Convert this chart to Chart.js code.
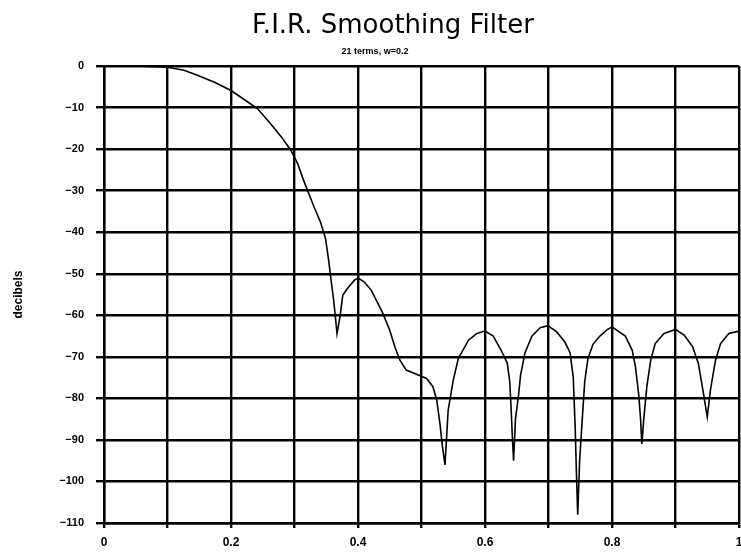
<!DOCTYPE html>
<html>
<head>
<meta charset="utf-8">
<title>F.I.R. Smoothing Filter</title>
<script src="https://cdn.jsdelivr.net/npm/chart.js@4/dist/chart.umd.min.js"></script>
<style>
  body { margin: 0; background: #fff; overflow: hidden; }
  canvas { display: block; }
</style>
</head>
<body>
<canvas id="chart1" width="741" height="560"></canvas>
<script>
// DATA
const chartTitle = "F.I.R. Smoothing Filter";
const chartSubtitle = "21 terms, w=0.2";
const yAxisTitle = "decibels";

const freq = [0, 0.05, 0.1, 0.126, 0.147, 0.174, 0.2, 0.226, 0.242, 0.263, 0.279, 0.294, 0.305, 0.316,
  0.331, 0.341, 0.349, 0.354, 0.358, 0.362, 0.367, 0.372, 0.376, 0.383, 0.394, 0.4, 0.41, 0.421,
  0.439, 0.45, 0.458, 0.466, 0.476, 0.492, 0.508, 0.518, 0.524, 0.529, 0.533, 0.537, 0.542, 0.55,
  0.558, 0.574, 0.587, 0.6, 0.613, 0.626, 0.635, 0.639, 0.641, 0.643, 0.645, 0.648, 0.653, 0.656,
  0.663, 0.674, 0.687, 0.699, 0.713, 0.726, 0.734, 0.739, 0.742, 0.744, 0.746, 0.749, 0.754, 0.757,
  0.762, 0.77, 0.781, 0.792, 0.8, 0.821, 0.832, 0.837, 0.842, 0.845, 0.847, 0.85, 0.855, 0.861,
  0.868, 0.882, 0.9, 0.914, 0.927, 0.936, 0.944, 0.95, 0.955, 0.963, 0.971, 0.984, 1.0];

const decibels = [0, 0, -0.3, -1, -2.2, -3.9, -5.9, -8.6, -10.3, -14, -17, -20.2, -23.5, -28.2,
  -34, -37.6, -41.6, -47, -52, -56.8, -64.4, -60, -55.2, -53.6, -51.6, -51, -52, -54,
  -59.5, -63.6, -67.6, -70.8, -73.2, -74.2, -75.2, -77.2, -80.4, -86, -91.6, -96, -82.8, -75.6,
  -70.4, -66, -64.4, -63.8, -65, -68.6, -71.5, -76, -82, -89, -95, -85, -79, -74.4,
  -69, -65, -63, -62.5, -64, -66.5, -69, -75, -87, -98, -108, -95, -83, -76,
  -70.5, -67, -65, -63.5, -62.8, -65, -68.5, -72.5, -79, -85, -91, -85, -77, -70.8,
  -66.8, -64.4, -63.4, -64.8, -67.6, -71.6, -78.8, -84.5, -78, -70.8, -66.8, -64.4, -63.8];

const xTickValues = [0, 0.2, 0.4, 0.6, 0.8, 1];
const xTickLabels = ["0", "0.2", "0.4", "0.6", "0.8", "1"];
const yTickValues = [0, -10, -20, -30, -40, -50, -60, -70, -80, -90, -100, -110];
const yTickLabels = ["0", "\u221210", "\u221220", "\u221230", "\u221240", "\u221250", "\u221260",
  "\u221270", "\u221280", "\u221290", "\u2212100", "\u2212110"];

// titles are drawn by hand so they can sit off-centre like the original
const headings = {
  id: 'headings',
  afterDraw(chart) {
    const ctx = chart.ctx;
    ctx.save();
    ctx.fillStyle = '#000';
    ctx.textAlign = 'center';
    ctx.textBaseline = 'alphabetic';
    ctx.font = '26px "DejaVu Sans"';
    ctx.fillText(chartTitle, 393, 33);
    ctx.font = 'bold 9px "Liberation Sans"';
    ctx.fillText(chartSubtitle, 375, 54);
    ctx.restore();
  }
};

const pts = freq.map((f, i) => ({ x: f, y: decibels[i] }));

new Chart(document.getElementById("chart1"), {
  type: 'line',
  data: {
    datasets: [{
      data: pts,
      borderColor: '#000',
      borderWidth: 1.6,
      pointRadius: 0,
      tension: 0
    }]
  },
  plugins: [headings],
  options: {
    responsive: false,
    animation: false,
    layout: { padding: { top: 66, right: 2, bottom: 0, left: 0 } },
    plugins: {
      legend: { display: false },
      title: { display: false },
      tooltip: { enabled: false }
    },
    scales: {
      x: {
        type: 'linear',
        min: 0,
        max: 1,
        afterFit(scale) {
          scale.paddingLeft = 0;
          scale.paddingRight = 0;
          scale.height = 37;
        },
        ticks: {
          stepSize: 0.1,
          autoSkip: false,
          maxRotation: 0,
          padding: 7,
          color: '#000',
          font: { family: 'Liberation Sans', size: 12, weight: 'bold' },
          callback: (v) => {
            const i = xTickValues.findIndex(t => Math.abs(t - v) < 1e-6);
            return i >= 0 ? xTickLabels[i] : '';
          }
        },
        grid: { color: '#000', lineWidth: 2.4, tickLength: 5 },
        border: { color: '#000', width: 2.4 }
      },
      y: {
        min: -110,
        max: 0,
        afterFit(scale) {
          scale.paddingTop = 0;
          scale.paddingBottom = 0;
          scale.width = 104;
        },
        ticks: {
          stepSize: 10,
          padding: 12,
          color: '#000',
          font: { family: 'Liberation Sans', size: 11, weight: 'bold' },
          callback: (v) => {
            const i = yTickValues.indexOf(v);
            return i >= 0 ? yTickLabels[i] : '';
          }
        },
        grid: { color: '#000', lineWidth: 2.4, tickLength: 8 },
        border: { color: '#000', width: 2.4 },
        title: {
          display: true,
          text: yAxisTitle,
          color: '#000',
          padding: 11,
          font: { family: 'Liberation Sans', size: 12, weight: 'bold' }
        }
      }
    }
  }
});
</script>
</body>
</html>
